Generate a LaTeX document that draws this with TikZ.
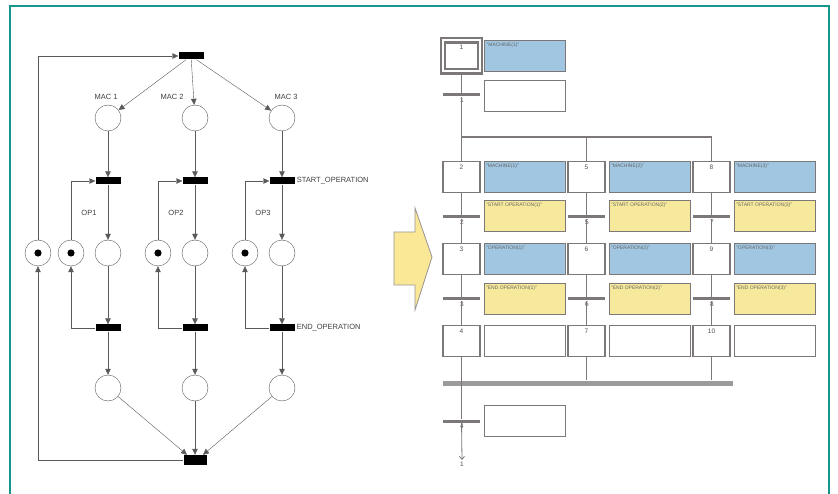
\documentclass[tikz,border=0pt]{standalone}
\usepackage{fontspec}
\setmainfont{Liberation Sans}
\usetikzlibrary{arrows.meta,positioning}
\definecolor{frameteal}{RGB}{20,150,140}
\definecolor{actblue}{RGB}{160,198,225}
\definecolor{actyellow}{RGB}{247,233,155}
\definecolor{boxgray}{RGB}{125,120,120}
\definecolor{arrowyellow}{RGB}{250,232,150}
\begin{document}
\begin{tikzpicture}[x=1pt,y=-1pt]
        \tikzset{place/.style={circle,draw=black!65,fill=white,minimum size=26pt,inner sep=0pt},
                 token/.style={place,path picture={\fill[black] (path picture bounding box.center) circle (3.6pt);}},
                 bar/.style={rectangle,fill=black,minimum width=25pt,minimum height=7pt,inner sep=0pt},
                 arc/.style={draw=black!65,-{Triangle[length=6pt,width=5.5pt]}},
                 lbl/.style={font=\fontsize{7.5}{8}\selectfont,text=black!75,inner sep=1pt},
                 stepbox/.style={draw=boxgray,line width=1.4pt,minimum width=37pt,minimum height=31pt,inner sep=0pt},
                 actbox/.style={draw=boxgray,line width=1.4pt,minimum width=81pt,minimum height=31pt,inner sep=0pt,
                                label={[anchor=north west,inner sep=2.5pt,font=\fontsize{5}{6}\selectfont,text=black!60]north west:#1}},
                 actbox/.default={},
                 gbar/.style={rectangle,fill=boxgray,minimum width=37pt,minimum height=3pt,inner sep=0pt},
                 tlbl/.style={font=\fontsize{6.5}{7}\selectfont,text=black!70,inner sep=0.5pt}}
        \useasboundingbox (0,0) rectangle (838,494);
        \draw[frameteal,line width=1.6pt] (10,520) -- (10,6) -- (829,6) -- (829,520);

        % petri net
        \node[bar] (tTop) at (191,56) {};
        \foreach \i/\x in {1/108,2/195,3/282}{
          \node[place] (mac\i) at (\x,118) {};
          \node[bar] (ts\i) at (\x,181) {};
          \node[place] (op\i) at (\x,253) {};
          \node[bar] (te\i) at (\x,328) {};
          \node[place] (end\i) at (\x,388) {};
          \node[token] (res\i) at (\x-37,253) {};
          \node[lbl] (oplbl\i) at (\x-19,213) {OP\i};
          \draw[arc] (tTop) -- (mac\i);
          \draw[arc] (mac\i) -- (ts\i);
          \draw[arc] (ts\i) -- (op\i);
          \draw[arc] (op\i) -- (te\i);
          \draw[arc] (te\i) -- (end\i);
          \draw[arc] (res\i.north) |- (ts\i.west);
          \draw[arc] (te\i.west) -| (res\i.south);
        }
        \node[lbl] (maclbl1) at (106,97) {MAC 1};
        \node[lbl] (maclbl2) at (172,97) {MAC 2};
        \node[lbl] (maclbl3) at (286,97) {MAC 3};
        \node[bar,minimum width=23pt,minimum height=10pt] (tBot) at (195,460) {};
        \draw[arc] (end1) -- ([xshift=-8pt]tBot.north);
        \draw[arc] (end2) -- (tBot.north);
        \draw[arc] (end3) -- ([xshift=8pt]tBot.north);
        \node[token] (resAll) at (38,253) {};
        \draw[arc] (resAll.north) |- (tTop.west);
        \draw[arc] (tBot.west) -| (resAll.south);
        \node[lbl,right=1pt of ts3] (lblStart) {START\_OPERATION};
        \node[lbl,right=1pt of te3] (lblEnd) {END\_OPERATION};

        % block arrow
        \draw[draw=boxgray!80,fill=arrowyellow,line width=0.8pt] (394,232) -- (415,232) -- (415,208) -- (432,257)
              -- (415,310) -- (415,285) -- (394,285) -- cycle;

        % grafcet
        \node[stepbox,line width=2.2pt,double=white,double distance=2pt] (s1) at (461.5,56) {};
        \node[anchor=north,tlbl] (s1n) at (s1.north) {\rule{0pt}{9pt}1};
        \node[actbox={"MACHINE(1)"},fill=actblue,anchor=west] (a1) at (484,56) {};
        \node[gbar] (t1) at (461.5,95) {};
        \node[tlbl,below right=0.5pt and -2pt of t1.south] (t1n) {1};
        \node[actbox,fill=white,anchor=west] (r1) at (484,96) {};
        \foreach \c/\x/\sa/\sb/\sc/\ta/\tb in {1/461.5/2/3/4/2/3,2/586.5/5/6/7/5/6,3/711.5/8/9/10/7/8}{
          \node[stepbox] (st\sa) at (\x,177) {};
          \node[anchor=north,tlbl] at (st\sa.north) {\rule{0pt}{8pt}\sa};
          \node[actbox={"MACHINE(\c)"},fill=actblue,anchor=west] (ac\sa) at (\x+22,177) {};
          \node[gbar] (tr\ta) at (\x,217) {};
          \node[tlbl,below right=0.5pt and -2pt of tr\ta.south] {\ta};
          \node[actbox={"START OPERATION(\c)"},fill=actyellow,anchor=west] (rc\ta) at (\x+22,216) {};
          \node[stepbox] (st\sb) at (\x,259) {};
          \node[anchor=north,tlbl] at (st\sb.north) {\rule{0pt}{8pt}\sb};
          \node[actbox={"OPERATION(\c)"},fill=actblue,anchor=west] (ac\sb) at (\x+22,259) {};
          \node[gbar] (tr\tb) at (\x,299) {};
          \node[tlbl,below right=0.5pt and -2pt of tr\tb.south] {\tb};
          \node[actbox={"END OPERATION(\c)"},fill=actyellow,anchor=west] (rc\tb) at (\x+22,299) {};
          \node[stepbox] (st\sc) at (\x,341) {};
          \node[anchor=north,tlbl] at (st\sc.north) {\rule{0pt}{8pt}\sc};
          \node[actbox,fill=white,anchor=west] (ac\sc) at (\x+22,341) {};
        }
        \node[rectangle,fill=boxgray!75,minimum width=290pt,minimum height=5pt,inner sep=0pt,anchor=west] (sync) at (443,383) {};
        \node[gbar] (t4) at (461.5,421) {};
        \node[tlbl,below right=0.5pt and -2pt of t4.south] (t4n) {4};
        \node[actbox,fill=white,anchor=west] (r4) at (484,421) {};
        \coordinate (jmp) at (462,460);
        \node[tlbl,below=1pt of jmp] (jmpn) {1};
        % links
        \draw[boxgray,line width=0.8pt] (s1) -- (t1) -- (st2) -- (tr2) -- (st3) -- (tr3) -- (st4) -- (sync.west -| st4);
        \draw[boxgray,line width=0.8pt] (sync.west -| t4) -- (t4);
        \draw[boxgray,line width=0.8pt,-{Straight Barb[length=3pt,width=5pt]}] (t4) -- (jmp);
        \draw[boxgray,line width=1.2pt] (462,137) -- (712,137);
        \draw[boxgray,line width=0.8pt] (st5 |- 462,137) -- (st5) -- (tr5) -- (st6) -- (tr6) -- (st7) -- (st7 |- sync.north);
        \draw[boxgray,line width=0.8pt] (st8 |- 462,137) -- (st8) -- (tr7) -- (st9) -- (tr8) -- (st10) -- (st10 |- sync.north);
        \draw[boxgray,line width=0.8pt] (t1 |- 462,137) -- (st2);
\end{tikzpicture}
\end{document}
